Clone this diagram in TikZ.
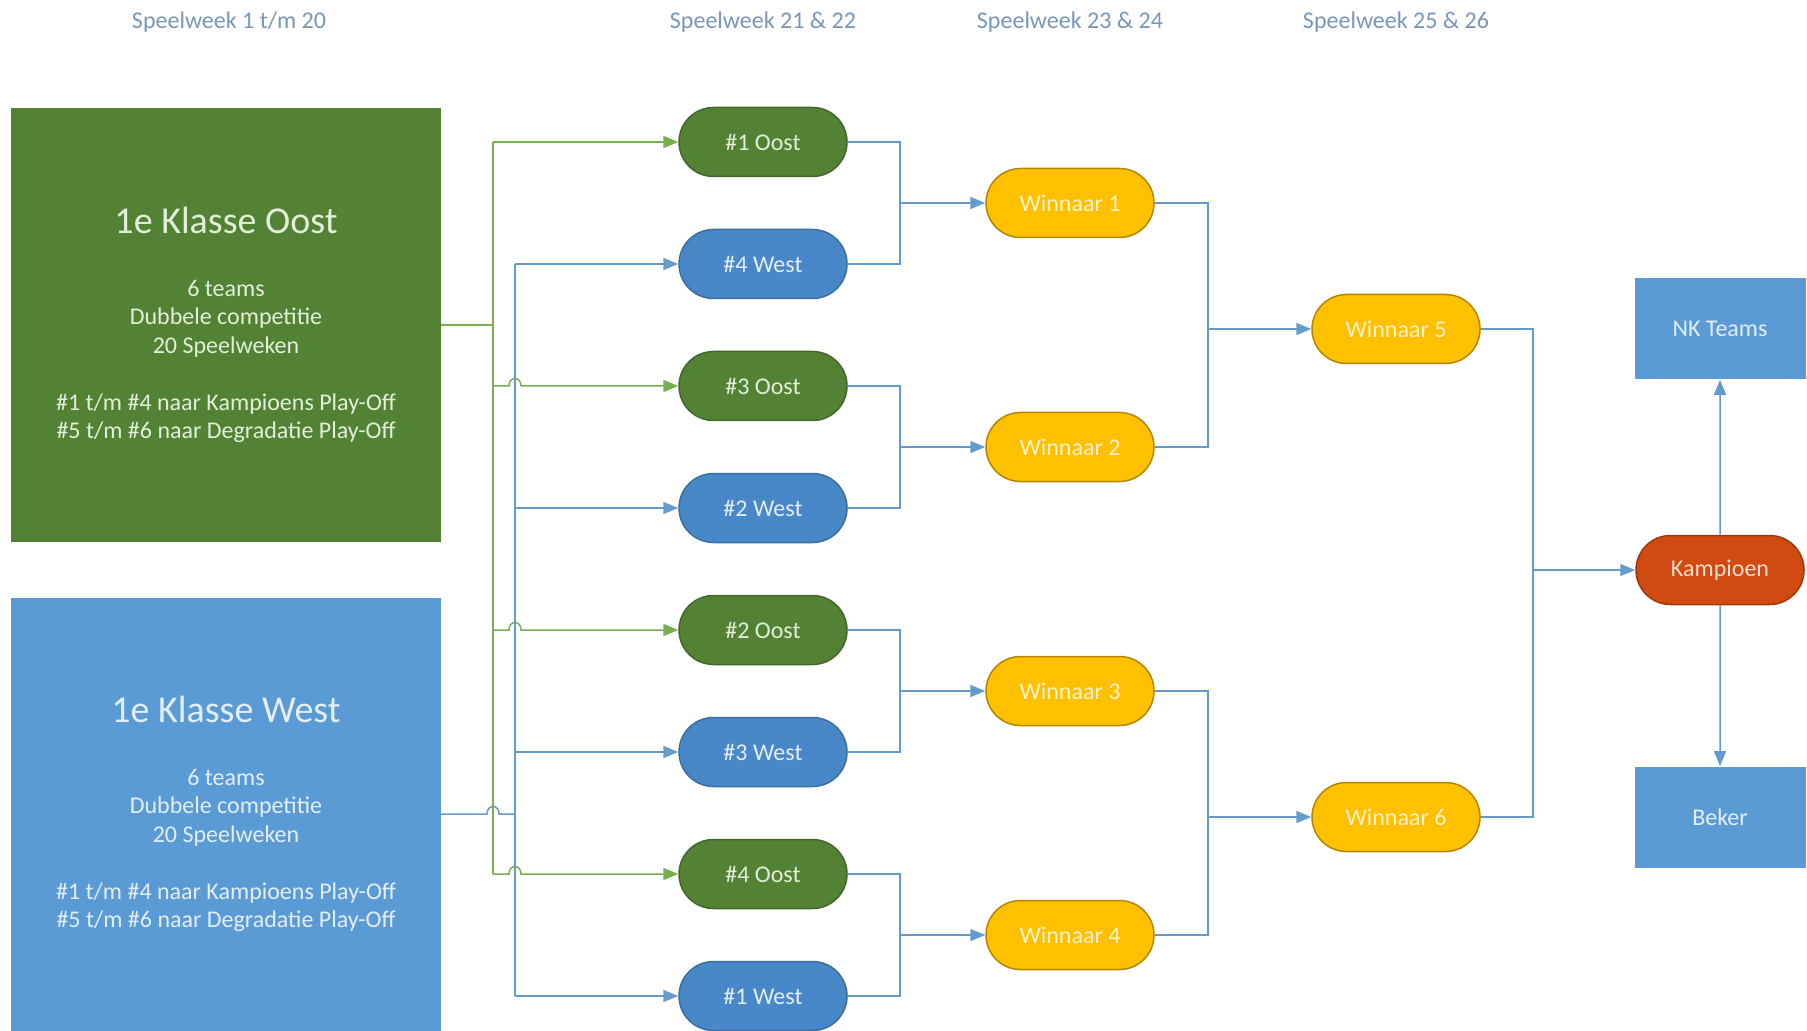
\documentclass[tikz,border=0pt]{standalone}
\usepackage{fontspec}
\setmainfont{Carlito}
\usetikzlibrary{arrows.meta,shapes.misc}

\definecolor{oostgreen}{RGB}{84,130,53}
\definecolor{oosttext}{RGB}{226,239,218}
\definecolor{westblue}{RGB}{91,155,213}
\definecolor{westtext}{RGB}{228,238,248}
\definecolor{pillblue}{RGB}{72,136,200}
\definecolor{gold}{RGB}{255,192,0}
\definecolor{goldtext}{RGB}{255,242,204}
\definecolor{kampred}{RGB}{208,74,18}
\definecolor{kamptext}{RGB}{252,222,204}
\definecolor{linegreen}{RGB}{120,175,80}
\definecolor{lineblue}{RGB}{100,155,205}
\definecolor{headgray}{RGB}{120,150,182}

\tikzset{
  head/.style={text=headgray, font=\fontsize{12}{14}\selectfont},
  klasse/.style={rectangle, minimum width=214.75pt, minimum height=216.5pt, align=center,
    font=\fontsize{12}{14.25}\selectfont},
  pill/.style={rounded rectangle, minimum width=88pt, minimum height=34.5pt, inner sep=2pt,
    line width=0.75pt, font=\fontsize{12}{14}\selectfont},
  oostpill/.style={pill, fill=oostgreen, draw=oostgreen!80!black, text=oosttext},
  westpill/.style={pill, fill=pillblue, draw=pillblue!80!black, text=westtext},
  winpill/.style={pill, fill=gold, draw=gold!70!black, text=goldtext},
  kamppill/.style={pill, fill=kampred, draw=kampred!75!black, text=kamptext},
  endbox/.style={rectangle, fill=westblue, minimum width=85.5pt, minimum height=50.5pt,
    text=westtext, font=\fontsize{12}{14}\selectfont},
  gline/.style={draw=linegreen, line width=0.75pt},
  bline/.style={draw=lineblue, line width=0.75pt},
  garrow/.style={gline, -{Triangle[length=7.5pt,width=6pt]}},
  barrow/.style={bline, -{Triangle[length=7.5pt,width=6pt]}}
}

\begin{document}
\begin{tikzpicture}[x=0.5pt,y=-0.5pt]
  \useasboundingbox (0,0) rectangle (1807,1031);

  \node (h1) at (229,22)  [head] {Speelweek 1 t/m 20};
  \node (h2) at (763,22)  [head] {Speelweek 21 \& 22};
  \node (h3) at (1070,22) [head] {Speelweek 23 \& 24};
  \node (h4) at (1396,22) [head] {Speelweek 25 \& 26};

  \node (oost) at (226,325) [klasse, fill=oostgreen, text=oosttext]
    {{\fontsize{19}{23}\selectfont 1e Klasse Oost}\\[17pt]
     6 teams\\ Dubbele competitie\\ 20 Speelweken\\[14.25pt]
     \#1 t/m \#4 naar Kampioens Play-Off\\ \#5 t/m \#6 naar Degradatie Play-Off};
  \node (west) at (226,814) [klasse, fill=westblue, text=westtext]
    {{\fontsize{19}{23}\selectfont 1e Klasse West}\\[17pt]
     6 teams\\ Dubbele competitie\\ 20 Speelweken\\[14.25pt]
     \#1 t/m \#4 naar Kampioens Play-Off\\ \#5 t/m \#6 naar Degradatie Play-Off};

  \node (o1) at (763,142) [oostpill] {\#1 Oost};
  \node (w4) at (763,264) [westpill] {\#4 West};
  \node (o3) at (763,386) [oostpill] {\#3 Oost};
  \node (w2) at (763,508) [westpill] {\#2 West};
  \node (o2) at (763,630) [oostpill] {\#2 Oost};
  \node (w3) at (763,752) [westpill] {\#3 West};
  \node (o4) at (763,874) [oostpill] {\#4 Oost};
  \node (w1) at (763,996) [westpill] {\#1 West};

  \node (win1) at (1070,203) [winpill] {Winnaar 1};
  \node (win2) at (1070,447) [winpill] {Winnaar 2};
  \node (win3) at (1070,691) [winpill] {Winnaar 3};
  \node (win4) at (1070,935) [winpill] {Winnaar 4};
  \node (win5) at (1396,329) [winpill] {Winnaar 5};
  \node (win6) at (1396,817) [winpill] {Winnaar 6};

  \node (kamp)  at (1720,570) [kamppill] {Kampioen};
  \node (nk)    at (1720,329) [endbox] {NK Teams};
  \node (beker) at (1720,817) [endbox] {Beker};

  \coordinate (gbus) at (493,0);
  \coordinate (bbus) at (515,0);
  \coordinate (hopl) at (509,0);
  \coordinate (hopr) at (521,0);
  \coordinate (wopl) at (487,0);
  \coordinate (wopr) at (499,0);
  \coordinate (col1) at (900,0);
  \coordinate (col2) at (1208,0);
  \coordinate (col3) at (1533,0);

  \draw[gline] (oost.east) -- (oost.east -| gbus);
  \draw[gline] (o1.west -| gbus) -- (o4.west -| gbus);
  \draw[garrow] (o1.west -| gbus) -- (o1);
  \foreach \p in {o3,o2,o4}
    \draw[garrow] (\p.west -| gbus) -- (\p.west -| hopl)
      .. controls +(0,-10) and +(0,-10) .. (\p.west -| hopr) -- (\p);

  \draw[bline] (west.east) -- (west.east -| wopl)
    .. controls +(0,-10) and +(0,-10) .. (west.east -| wopr) -- (west.east -| bbus);
  \draw[bline] (w4.west -| bbus) -- (w1.west -| bbus);
  \foreach \p in {w4,w2,w3,w1}
    \draw[barrow] (\p.west -| bbus) -- (\p);

  \foreach \a/\b/\c in {o1/w4/win1, o3/w2/win2, o2/w3/win3, o4/w1/win4} {
    \draw[bline] (\a.east) -| (col1 |- \c) |- (\b.east);
    \draw[barrow] (col1 |- \c) -- (\c);
  }
  \foreach \a/\b/\c in {win1/win2/win5, win3/win4/win6} {
    \draw[bline] (\a.east) -| (col2 |- \c) |- (\b.east);
    \draw[barrow] (col2 |- \c) -- (\c);
  }
  \draw[bline] (win5.east) -| (col3 |- kamp) |- (win6.east);
  \draw[barrow] (col3 |- kamp) -- (kamp);

  \draw[barrow] (kamp) -- (nk);
  \draw[barrow] (kamp) -- (beker);
\end{tikzpicture}
\end{document}
